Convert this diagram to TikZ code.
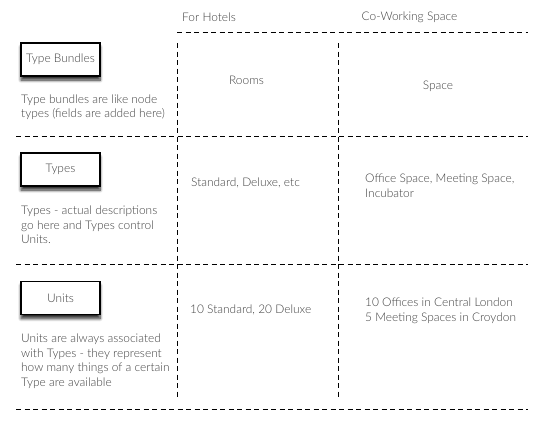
\documentclass[tikz,border=0pt]{standalone}
\usepackage{fontspec}
\setmainfont{Lato}[UprightFont=* Light]
\usetikzlibrary{shadows.blur}
\definecolor{schrift}{HTML}{404040}
\begin{document}
\begin{tikzpicture}[x=1pt,y=-1pt]
\tikzset{kasten/.style={draw=black,line width=1.1pt,fill=white,minimum width=79pt,minimum height=33pt,inner sep=0pt,text=schrift,font=\fontsize{11.9}{14.5}\selectfont,
  blur shadow={shadow xshift=0pt,shadow yshift=-4pt,shadow blur steps=8,shadow blur radius=3pt,shadow opacity=85}}}
\tikzset{beschr/.style={align=left,inner sep=0pt,text=schrift,font=\fontsize{11.9}{14.5}\selectfont}}
\tikzset{linie/.style={line width=0.9pt,dash pattern=on 5pt off 3.5pt}}
\useasboundingbox (0,0) rectangle (539,421);
\node [beschr] (kopfa) at (209,17.5) {For Hotels};
\node [beschr] (kopfb) at (409.5,17.5) {Co-Working Space};
\draw[linie] (177,32.3) -- (528,32.3);
\draw[linie] (16,136) -- (528,136);
\draw[linie] (16,264) -- (528,264);
\draw[linie] (16,409) -- (528,409);
\draw[linie] (177,43) -- (177,398);
\draw[linie] (338,43) -- (338,398);
\node [kasten] (bundles) at (60.5,59.5) {Type Bundles};
\node [kasten] (types) at (60.5,169.5) {Types};
\node [kasten] (units) at (60.5,298) {Units};
\node [beschr,anchor=west] (bundlestxt) at (21,107) {Type bundles are like node\\types (fields are added here)};
\node [beschr,anchor=west] (typestxt) at (21,225) {Types - actual descriptions\\go here and Types control\\Units.};
\node [beschr,anchor=west] (unitstxt) at (21,361) {Units are always associated\\with Types - they represent\\how many things of a certain\\Type are available};
\node [beschr] (rooms) at (246.5,80) {Rooms};
\node [beschr] (space) at (438,86) {Space};
\node [beschr,anchor=west] (hoteltypes) at (191,182.7) {Standard, Deluxe, etc};
\node [beschr,anchor=west] (spacetypes) at (365,185.8) {Office Space, Meeting Space,\\Incubator};
\node [beschr,anchor=west] (hotelunits) at (190,310) {10 Standard, 20 Deluxe};
\node [beschr,anchor=west] (spaceunits) at (365,310.8) {10 Offices in Central London\\5 Meeting Spaces in Croydon};
\end{tikzpicture}
\end{document}
